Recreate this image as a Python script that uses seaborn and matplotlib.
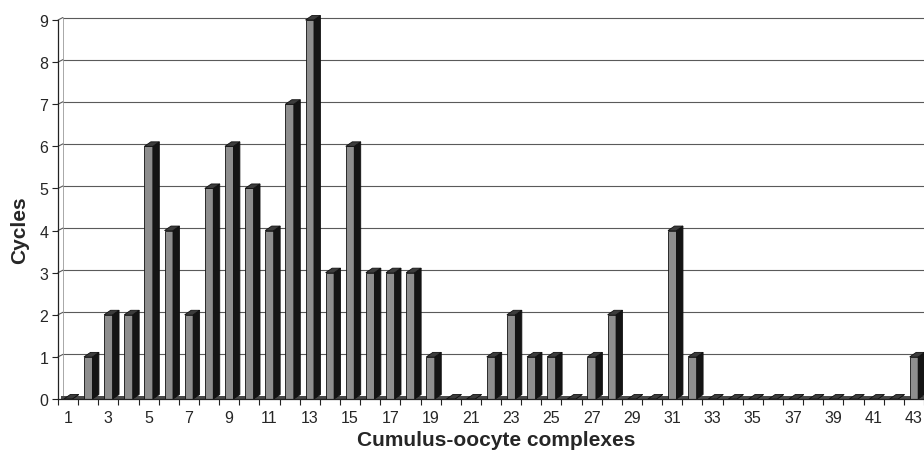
import matplotlib
matplotlib.use("Agg")
import matplotlib.pyplot as plt
import matplotlib.transforms as mtransforms
from matplotlib.patches import Polygon
import seaborn as sns
import pandas as pd

# Number of cumulus-oocyte complexes retrieved and how many cycles yielded each count
complexes = list(range(1, 44))
cycles = [0, 1, 2, 2, 6, 4, 2, 5, 6, 5,
          4, 7, 9, 3, 6, 3, 3, 3, 1, 0,
          0, 1, 2, 1, 1, 0, 1, 2, 0, 0,
          4, 1, 0, 0, 0, 0, 0, 0, 0, 0,
          0, 0, 1]
yticks = list(range(0, 10))

df = pd.DataFrame({"complexes": [str(c) for c in complexes], "cycles": cycles})

sns.set_style("white")
plt.rcParams["font.family"] = ["Liberation Sans", "DejaVu Sans"]

W, H = 924, 452
fig = plt.figure(figsize=(W / 100, H / 100), dpi=100)
x0_px, y0_px, ytop_px = 58, 400, 21
step_px = 20.24
unit_px = (y0_px - ytop_px) / 9
ax = fig.add_axes([x0_px / W, 1 - y0_px / H, (W - x0_px) / W, (y0_px - ytop_px) / H])

bar_w = 0.42
sns.barplot(data=df, x="complexes", y="cycles", order=df["complexes"],
            color="#8e8e8e", width=bar_w, saturation=1, ax=ax,
            edgecolor="#111111", linewidth=0.6, zorder=3)
bars = [p for p in ax.patches]

xmax = -0.5 + (W - x0_px) / step_px
ax.set_xlim(-0.5, xmax)
ax.set_ylim(0, 9)

# depth of the pseudo-3D extrusion, in data units
dx = 6.5 / step_px
dy = 4.5 / unit_px

# back-wall gridlines, shifted up-right, with short connectors to the axis
gdx_px, gdy_px = 5, 2.5
shift = mtransforms.ScaledTranslation(gdx_px / 100, gdy_px / 100, fig.dpi_scale_trans)
for v in yticks[1:]:
    ax.plot([-0.5, xmax], [v, v], color="#5a5a5a", lw=0.8,
            transform=ax.transData + shift, zorder=1, clip_on=False)
    ax.plot([-0.5, -0.5 + gdx_px / step_px], [v, v + gdy_px / unit_px],
            color="#5a5a5a", lw=0.8, zorder=1, clip_on=False)
ax.plot([-0.5 + gdx_px / step_px] * 2, [gdy_px / unit_px, 9 + gdy_px / unit_px],
        color="#9a9a9a", lw=0.6, zorder=1, clip_on=False)

# floor strip along the zero line
floor_h = 3.5 / unit_px
ax.fill_between([-0.5 + 0.15, xmax + 0.5], [0, 0], [floor_h, floor_h],
                color="#4a4a4a", lw=0, zorder=2.6, clip_on=False)

# side and top faces for each bar
for p in bars:
    x = p.get_x()
    w = p.get_width()
    h = p.get_height()
    side = Polygon([(x + w, 0), (x + w + dx, dy), (x + w + dx, h + dy), (x + w, h)],
                   closed=True, facecolor="#141414", edgecolor="#111111", lw=0.6,
                   zorder=3, clip_on=False)
    top = Polygon([(x, h), (x + w, h), (x + w + dx, h + dy), (x + dx, h + dy)],
                  closed=True, facecolor="#3c3c3c", edgecolor="#111111", lw=0.6,
                  zorder=4, clip_on=False)
    ax.add_patch(side)
    ax.add_patch(top)
    p.set_clip_on(False)

# axes styling
for s in ["top", "right"]:
    ax.spines[s].set_visible(False)
ax.spines["left"].set_color("#222222")
ax.spines["left"].set_linewidth(0.9)
ax.spines["bottom"].set_color("#222222")
ax.spines["bottom"].set_linewidth(0.9)
ax.spines["bottom"].set_zorder(5)

ax.set_yticks(yticks)
ax.set_yticklabels([str(v) for v in yticks], fontsize=11.5)
ax.tick_params(axis="y", length=4, width=0.8, color="#222222", pad=3, left=True)

centers = list(range(0, len(complexes), 2))
ax.set_xticks(centers)
ax.set_xticklabels([str(complexes[i]) for i in centers], fontsize=11.5)
ax.tick_params(axis="x", which="major", length=0, pad=8)
ax.set_xticks([i - 0.5 for i in range(len(complexes) + 1)], minor=True)
ax.tick_params(axis="x", which="minor", length=4, width=0.8, color="#222222", bottom=True)

ax.set_xlabel("")
ax.set_ylabel("")
fig.text(496 / W, 1 - 441 / H, "Cumulus-oocyte complexes", ha="center", va="center",
         fontsize=15, fontweight="bold")
fig.text(20 / W, 1 - 230 / H, "Cycles", ha="center", va="center", rotation=90,
         fontsize=15, fontweight="bold")

fig.savefig("out.png", dpi=100)
